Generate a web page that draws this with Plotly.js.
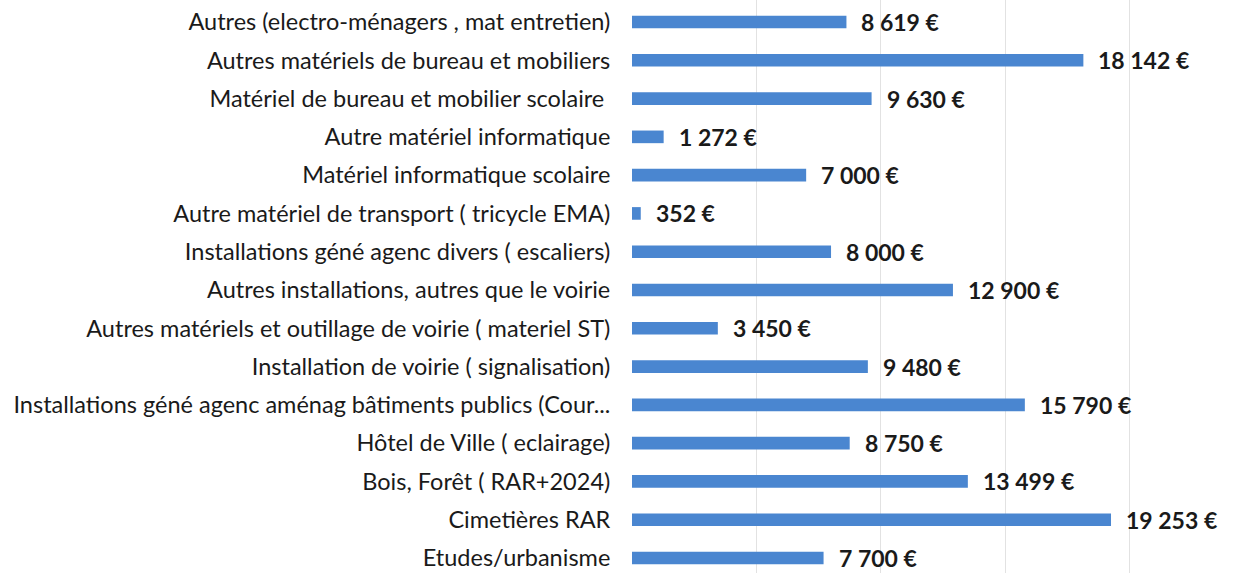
<!DOCTYPE html>
<html>
<head>
<meta charset="utf-8">
<script src="https://cdn.plot.ly/plotly-3.0.1.min.js"></script>
<style>html,body{margin:0;padding:0;background:#fff;}#chart{width:1236px;height:573px;}</style>
</head>
<body>
<div id="chart"></div>
<script>
const categories = [
  "Autres (electro-ménagers , mat entretien)",
  "Autres matériels de bureau et mobiliers",
  "Matériel de bureau et mobilier scolaire ",
  "Autre matériel informatique",
  "Matériel informatique scolaire",
  "Autre matériel de transport ( tricycle EMA)",
  "Installations géné agenc divers ( escaliers)",
  "Autres installations, autres que le voirie",
  "Autres matériels et outillage de voirie ( materiel ST)",
  "Installation de voirie ( signalisation)",
  "Installations géné agenc aménag bâtiments publics (Cour...",
  "Hôtel de Ville ( eclairage)",
  "Bois, Forêt ( RAR+2024)",
  "Cimetières RAR",
  "Etudes/urbanisme"
];
const values = [8619, 18142, 9630, 1272, 7000, 352, 8000, 12900, 3450, 9480, 15790, 8750, 13499, 19253, 7700];

function fmt(v) {
  return String(v).replace(/\B(?=(\d{3})+(?!\d))/g, "\u00a0") + "\u00a0€";
}
const labels = values.map(fmt);

const trace = {
  type: "bar",
  orientation: "h",
  y: categories,
  x: values,
  marker: { color: "#4a86d0" },
  hoverinfo: "none"
};

const annotations = values.map((v, i) => ({
  x: v, y: categories[i], xref: "x", yref: "y",
  text: "<b>" + labels[i] + "</b>", showarrow: false, xanchor: "left", xshift: 13,
  font: { family: "Lato, 'Liberation Sans', sans-serif", size: 23, color: "#1a1a1a" }
}));

const layout = {
  width: 1236, height: 573,
  margin: { l: 632, r: 10, t: 0, b: 0 },
  paper_bgcolor: "#fff", plot_bgcolor: "#fff",
  bargap: 0.67,
  showlegend: false,
  xaxis: {
    range: [0, 23875],
    tickvals: [0, 5000, 10000, 15000, 20000],
    showticklabels: false,
    showgrid: true, gridcolor: "#e2e2e2", gridwidth: 1,
    zeroline: false, showline: false, ticks: ""
  },
  yaxis: {
    type: "category",
    categoryorder: "array", categoryarray: categories,
    range: [14.392, -0.5746],
    ticks: "outside", ticklen: 16, tickcolor: "rgba(0,0,0,0)",
    showgrid: false, zeroline: false, showline: false,
    tickfont: { family: "Lato, 'Liberation Sans', sans-serif", size: 23.5, color: "#1a1a1a" }
  },
  annotations: annotations
};

Plotly.newPlot("chart", [trace], layout, { staticPlot: true, displayModeBar: false });
</script>
</body>
</html>
